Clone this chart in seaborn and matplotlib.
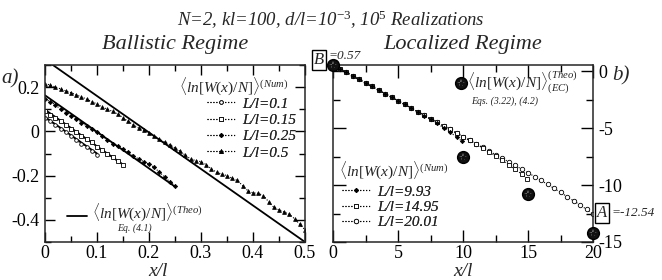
import numpy as np
import pandas as pd
import matplotlib
matplotlib.use("Agg")
import matplotlib.pyplot as plt
import seaborn as sns
from matplotlib.lines import Line2D
from matplotlib.ticker import FixedLocator, MultipleLocator

sns.set_style("ticks")
plt.rcParams["font.family"] = ["Liberation Serif", "DejaVu Serif"]
plt.rcParams["mathtext.fontset"] = "custom"
plt.rcParams["mathtext.rm"] = "Liberation Serif"
plt.rcParams["mathtext.it"] = "Liberation Serif:italic"
plt.rcParams["mathtext.bf"] = "Liberation Serif:bold"

# ---------------- data: ballistic regime (panel a) ----------------
x_b01 = np.round(np.arange(0, 0.1001, 0.01), 2)
y_b01 = [0.06, 0.045, 0.03, 0.012, -0.005, -0.02, -0.04, -0.055, -0.07, -0.09, -0.105]

x_b015 = np.round(np.arange(0, 0.1501, 0.01), 2)
y_b015 = [0.09, 0.075, 0.062, 0.045, 0.03, 0.01, -0.005, -0.02, -0.035, -0.05,
          -0.07, -0.085, -0.10, -0.115, -0.135, -0.15]

x_b025 = np.round(np.arange(0, 0.2501, 0.01), 2)
y_b025 = [0.145, 0.135, 0.12, 0.10, 0.085, 0.07, 0.055, 0.04, 0.025, 0.01,
          -0.005, -0.02, -0.038, -0.055, -0.068, -0.08, -0.095, -0.11, -0.125, -0.137,
          -0.148, -0.162, -0.185, -0.205, -0.228, -0.245]

x_b05 = np.round(np.arange(0, 0.5001, 0.01), 2)
y_b05 = [0.215, 0.21, 0.20, 0.192, 0.183, 0.175, 0.165, 0.156, 0.146, 0.134,
         0.124, 0.11, 0.10, 0.09, 0.078, 0.062, 0.045, 0.03, 0.015, 0.004,
         -0.006, -0.02, -0.035, -0.048, -0.06, -0.075, -0.09, -0.108, -0.125, -0.132,
         -0.137, -0.15, -0.17, -0.185, -0.193, -0.20, -0.212, -0.222, -0.245, -0.268,
         -0.278, -0.28, -0.29, -0.318, -0.343, -0.355, -0.365, -0.375, -0.395, -0.42,
         -0.445]

theo_L = [0.1, 0.15, 0.25, 0.5]
theo_y_start = [0.065, 0.098, 0.163, 0.325]
theo_y_end = [-0.10, -0.15, -0.25, -0.50]

ball_labels = ["L/l=0.1", "L/l=0.15", "L/l=0.25", "L/l=0.5"]

# ---------------- data: localized regime (panel b) ----------------
x_l20 = np.round(np.arange(0, 20.001, 0.5), 2)
y_l20 = [0.57, 0.26, -0.06, -0.38, -0.69, -1.01, -1.32, -1.64, -1.95, -2.27,
         -2.58, -2.90, -3.21, -3.53, -3.84, -4.16, -4.47, -4.79, -5.10, -5.42,
         -5.73, -6.05, -6.36, -6.68, -6.99, -7.31, -7.62, -7.94, -8.26, -8.58,
         -8.91, -9.24, -9.58, -9.93, -10.28, -10.64, -11.00, -11.37, -11.74, -12.13,
         -12.54]

x_l993 = [0, 0.5, 1, 1.5, 2, 2.5, 3, 3.5, 4, 4.5, 5, 5.5, 6, 6.5, 7, 7.5, 8, 8.5, 9, 9.5, 9.93]
y_l993 = [0.57, 0.26, -0.06, -0.38, -0.69, -1.01, -1.32, -1.64, -1.95, -2.27,
          -2.58, -2.90, -3.21, -3.54, -3.88, -4.21, -4.57, -4.94, -5.34, -5.76, -6.15]

x_l1495 = [0, 0.5, 1, 1.5, 2, 2.5, 3, 3.5, 4, 4.5, 5, 5.5, 6, 6.5, 7, 7.5, 8, 8.5,
           9, 9.5, 10, 10.5, 11, 11.5, 12, 12.5, 13, 13.5, 14, 14.5, 14.95]
y_l1495 = [0.57, 0.26, -0.06, -0.38, -0.69, -1.01, -1.32, -1.64, -1.95, -2.27,
           -2.58, -2.90, -3.21, -3.53, -3.84, -4.16, -4.47, -4.79, -5.10, -5.42,
           -5.73, -6.05, -6.37, -6.72, -7.06, -7.42, -7.80, -8.20, -8.62, -9.00, -9.42]

x_ec = [0, 10, 15, 20]
y_ec = [0.57, -7.49, -10.77, -14.18]

loc_labels = ["L/l=9.93", "L/l=14.95", "L/l=20.01"]

xt_a = [0, 0.1, 0.2, 0.3, 0.4, 0.5]
xt_a_lab = ["0", "0.1", "0.2", "0.3", "0.4", "0.5"]
yt_a = [-0.4, -0.2, 0, 0.2]
yt_a_lab = ["-0.4", "-0.2", "0", "0.2"]
xt_b = [0, 5, 10, 15, 20]
xt_b_lab = ["0", "5", "10", "15", "20"]
yt_b = [-15, -10, -5, 0]
yt_b_lab = ["-15", "-10", "-5", "0"]

# ---------------- figure ----------------
W, H = 662, 280
fig = plt.figure(figsize=(W / 100, H / 100), dpi=100)


def ax_rect(x0, y0, x1, y1):
    return [x0 / W, 1 - y1 / H, (x1 - x0) / W, (y1 - y0) / H]


def ft(x, y, s, **kw):
    return fig.text(x / W, 1 - y / H, s, **kw)


ax1 = fig.add_axes(ax_rect(45, 65, 305, 242))
ax2 = fig.add_axes(ax_rect(333, 65, 593, 242))

for ax in (ax1, ax2):
    for sp in ax.spines.values():
        sp.set_linewidth(1.1)
        sp.set_visible(True)
    ax.tick_params(which="both", direction="in", top=True, right=True,
                   left=True, bottom=True, width=1.0, labelsize=13, colors="k")
    ax.tick_params(which="major", length=7, pad=4)
    ax.tick_params(which="minor", length=4)
    ax.tick_params(axis="x", which="major", pad=2)

line_kw = dict(color="k", lw=0.8, linestyle=":", legend=False, sort=False, errorbar=None)

# panel a: theory lines
for L, y0, y1 in zip(theo_L, theo_y_start, theo_y_end):
    sns.lineplot(x=[0, L], y=[y0, y1], ax=ax1, color="k", lw=1.3, legend=False,
                 sort=False, errorbar=None)

sns.lineplot(x=x_b01, y=y_b01, ax=ax1, marker="o", markersize=2.6,
             markerfacecolor="white", markeredgecolor="k", markeredgewidth=0.6, **line_kw)
sns.lineplot(x=x_b015, y=y_b015, ax=ax1, marker="s", markersize=2.6,
             markerfacecolor="white", markeredgecolor="k", markeredgewidth=0.6, **line_kw)
sns.lineplot(x=x_b025, y=y_b025, ax=ax1, marker="D", markersize=2.2,
             markerfacecolor="k", markeredgecolor="k", markeredgewidth=0.5, **line_kw)
sns.lineplot(x=x_b05, y=y_b05, ax=ax1, marker="^", markersize=2.8,
             markerfacecolor="k", markeredgecolor="k", markeredgewidth=0.5, **line_kw)

ax1.set_xlim(0, 0.5)
ax1.set_ylim(-0.5, 0.3)
ax1.xaxis.set_major_locator(FixedLocator(xt_a))
ax1.set_xticklabels(xt_a_lab)
ax1.xaxis.set_minor_locator(MultipleLocator(0.05))
ax1.yaxis.set_major_locator(FixedLocator(yt_a))
ax1.set_yticklabels(yt_a_lab)
ax1.yaxis.set_minor_locator(MultipleLocator(0.1))
ax1.set_xlabel("")
ax1.set_ylabel("")

# panel b
sns.lineplot(x=x_l20, y=y_l20, ax=ax2, marker="o", markersize=3.2,
             markerfacecolor="white", markeredgecolor="k", markeredgewidth=0.6, **line_kw)
sns.lineplot(x=x_l1495, y=y_l1495, ax=ax2, marker="s", markersize=2.8,
             markerfacecolor="white", markeredgecolor="k", markeredgewidth=0.6, **line_kw)
sns.lineplot(x=x_l993, y=y_l993, ax=ax2, marker="D", markersize=2.2,
             markerfacecolor="k", markeredgecolor="k", markeredgewidth=0.5, **line_kw)


def ec_marker(ax, xs, ys, **kw):
    ax.plot(xs, ys, linestyle="none", marker="o", markersize=8.5, markerfacecolor="#111111",
            markeredgecolor="k", clip_on=False, zorder=5, **kw)
    ax.plot(xs, ys, linestyle="none", marker="*", markersize=5.5, color="#8c8c8c",
            markeredgewidth=0.0, clip_on=False, zorder=6, **kw)
    ax.plot(xs, ys, linestyle="none", marker="o", markersize=1.8, color="#111111",
            clip_on=False, zorder=7, **kw)


ec_marker(ax2, x_ec, y_ec)

ax2.set_xlim(0, 20)
ax2.set_ylim(-15, 0.57)
ax2.xaxis.set_major_locator(FixedLocator(xt_b))
ax2.set_xticklabels(xt_b_lab)
ax2.xaxis.set_minor_locator(MultipleLocator(2.5))
ax2.yaxis.set_major_locator(FixedLocator(yt_b))
ax2.set_yticklabels(yt_b_lab)
ax2.yaxis.set_minor_locator(MultipleLocator(2.5))
ax2.tick_params(which="both", labelleft=False, labelright=True, left=True, right=True)
ax2.tick_params(which="major", length=9)
ax2.tick_params(which="minor", length=5)
ax2.set_xlabel("")
ax2.set_ylabel("")

# ---------------- titles / labels ----------------
ft(331, 20, r"N=2, kl=100, d/l=10$^{\mathit{-3}}$, 10$^{\mathit{5}}$ Realizations",
   ha="center", va="center", fontsize=13.5, style="italic")
ft(175, 45, "Ballistic Regime", ha="center", va="center", fontsize=16, style="italic")
ft(463, 45, "Localized Regime", ha="center", va="center", fontsize=16, style="italic")
ft(158, 275.5, "x/l", ha="center", va="baseline", fontsize=14, style="italic")
ft(463, 275.5, "x/l", ha="center", va="baseline", fontsize=14, style="italic")
ft(1, 79, "a)", ha="left", va="center", fontsize=15, style="italic")
ft(612, 76, "b)", ha="left", va="center", fontsize=15, style="italic")

# boxed point labels
ft(319, 60, "B", ha="center", va="center", fontsize=12, style="italic",
   bbox=dict(boxstyle="square,pad=0.12", fc="white", ec="k", lw=1.0))
ft(328, 56, "=0.57", ha="left", va="center", fontsize=9.5, style="italic")
ft(602, 213, "A", ha="center", va="center", fontsize=12, style="italic",
   bbox=dict(boxstyle="square,pad=0.12", fc="white", ec="k", lw=1.0))
ft(611, 213, "=-12.54", ha="left", va="center", fontsize=9.5, style="italic")

# ---------------- legends ----------------
num_title = r"$\langle ln[W(x)/N]\rangle^{(Num)}$"
ft(234, 86, num_title, ha="center", va="center", fontsize=11)
h_a = [
    Line2D([], [], color="k", lw=0.8, ls=":", marker="o", ms=2.6, mfc="white", mec="k", mew=0.6),
    Line2D([], [], color="k", lw=0.8, ls=":", marker="s", ms=2.6, mfc="white", mec="k", mew=0.6),
    Line2D([], [], color="k", lw=0.8, ls=":", marker="D", ms=2.2, mfc="k", mec="k", mew=0.5),
    Line2D([], [], color="k", lw=0.8, ls=":", marker="^", ms=2.8, mfc="k", mec="k", mew=0.5),
]
leg1 = ax1.legend(h_a, ball_labels, loc="upper left",
                  bbox_to_anchor=((207 - 45) / 260, (242 - 97) / 177),
                  frameon=False, handlelength=1.8, handletextpad=0.5,
                  labelspacing=0.17, borderpad=0, borderaxespad=0,
                  prop={"style": "italic", "size": 11})
ax1.add_artist(leg1)

# theory legend (panel a)
ax1.plot([(67 - 45) / 260, (87 - 45) / 260], [(242 - 216) / 177] * 2,
         transform=ax1.transAxes, color="k", lw=1.3)
ft(92, 212, r"$\langle ln[W(x)/N]\rangle^{(Theo)}$", ha="left", va="center", fontsize=11)
ft(117, 228, "Eq. (4.1)", ha="left", va="center", fontsize=7, style="italic")

# panel b legends
ft(339, 170, num_title, ha="left", va="center", fontsize=11)
h_b = [
    Line2D([], [], color="k", lw=0.8, ls=":", marker="D", ms=2.2, mfc="k", mec="k", mew=0.5),
    Line2D([], [], color="k", lw=0.8, ls=":", marker="s", ms=2.8, mfc="white", mec="k", mew=0.6),
    Line2D([], [], color="k", lw=0.8, ls=":", marker="o", ms=3.2, mfc="white", mec="k", mew=0.6),
]
leg2 = ax2.legend(h_b, loc_labels, loc="upper left",
                  bbox_to_anchor=((342 - 333) / 260, (242 - 185) / 177),
                  frameon=False, handlelength=1.8, handletextpad=0.5,
                  labelspacing=0.1, borderpad=0, borderaxespad=0,
                  prop={"style": "italic", "size": 11})
ax2.add_artist(leg2)

ec_marker(ax2, [(461 - 333) / 260], [(242 - 83) / 177], transform=ax2.transAxes)
ft(467, 82, r"$\langle ln[W(x)/N]\rangle^{(Theo)}_{(EC)}$", ha="left", va="center", fontsize=11)
ft(471, 101, "Eqs. (3.22), (4.2)", ha="left", va="center", fontsize=7, style="italic")

fig.savefig("out.png", dpi=100)
